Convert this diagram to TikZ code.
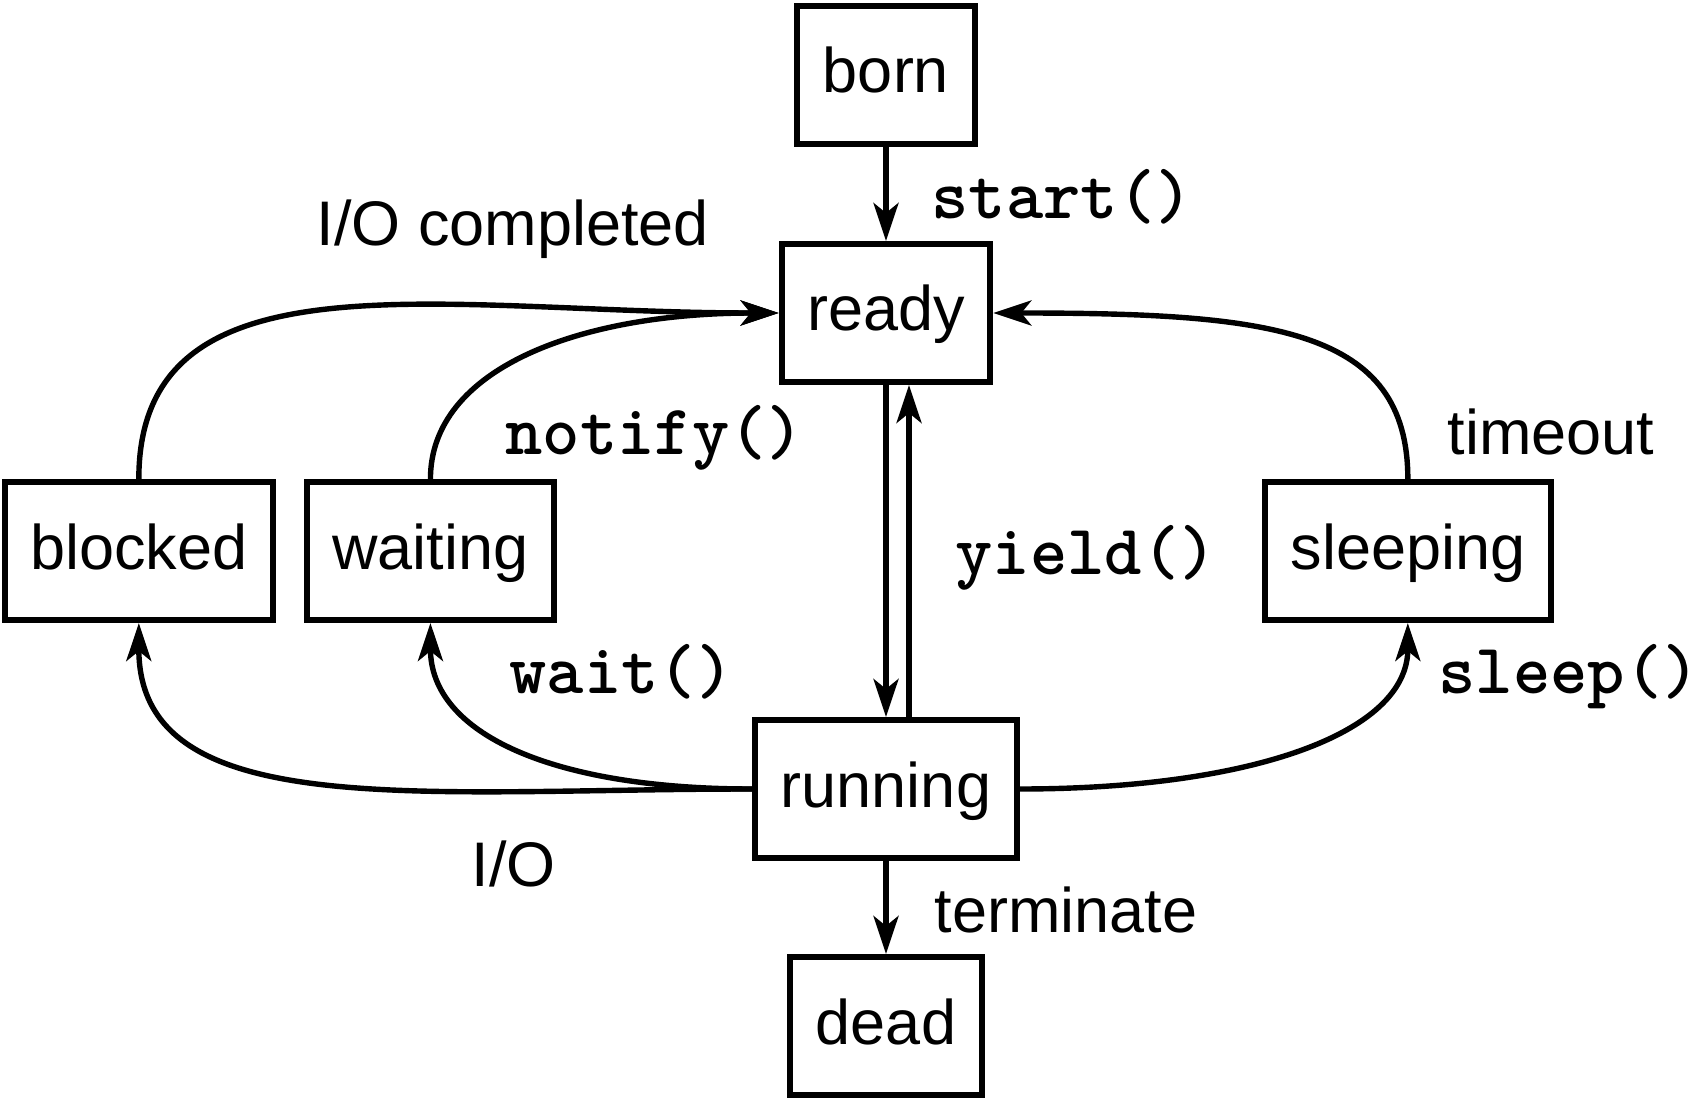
\documentclass[tikz,border=0pt]{standalone}
\usepackage{fontspec}
\setmainfont{Liberation Sans}
\usetikzlibrary{arrows.meta,positioning,calc}

\begin{document}
\begin{tikzpicture}[x=0.5pt, y=-0.5pt, line width=2.7pt,
    >={Stealth[length=19pt,width=12.5pt,inset=5pt]},
    state/.style={draw, rectangle, line width=3pt, minimum height=69pt,
        inner xsep=12.75pt, inner ysep=2pt, text height=24pt, text depth=6pt,
        font=\fontsize{31.5}{38}\selectfont},
    method/.style={font=\ttfamily\bfseries\fontsize{35.5}{42}\selectfont,
        inner sep=0pt, anchor=base west},
    event/.style={font=\fontsize{31.5}{38}\selectfont, inner sep=0pt, anchor=base west}]
    \useasboundingbox (0,0) rectangle (1698,1101);

    % Nodes {born, ready, running, dead, blocked, waiting, sleeping}
    \node [state]   (born)                          at (886,75) {born};
    \node [state]   (ready)     [below=47pt of born]            {ready};
    \node [state]   (running)   [below=166pt of ready]          {running};
    \node [state]   (dead)      [below=46.5pt of running]       {dead};
    \coordinate     (mid)       at ($(ready)!.5!(running)$);
    \node [state]   (waiting)   [left=164.5pt of mid]           {waiting};
    \node [state]   (blocked)   [left=14pt of waiting]          {blocked};
    \node [state]   (sleeping)  [right=188pt of mid]            {sleeping};

    % Paths
    \path [->]  (born) edge     node [method, pos=.76, xshift=21.5pt] {start()}     (ready);
    \path [->]  (ready) edge                                                        (running);
    \path [->]  ([xshift=11.5pt]running.north) edge
                                node [method, pos=.43, xshift=22pt] {yield()}      ([xshift=11.5pt]ready.south);
    \path [->]  (running) edge  node [event, pos=.77, xshift=23pt] {terminate}     (dead);
    \path [->]  (blocked) edge  [out=90, in=180, out looseness=.9, in looseness=1.3]    (ready);
    \path [->]  (waiting) edge  [out=90, in=180, out looseness=.73, in looseness=1.32]  (ready);
    \path [->]  (sleeping) edge [out=90, in=0, out looseness=.86, in looseness=1.6]     (ready);
    \path [->]  (running) edge  [out=180, in=-90, out looseness=1.34, in looseness=.81] (blocked);
    \path [->]  (running) edge  [out=180, in=-90, out looseness=1.42, in looseness=.78] (waiting);
    \path [->]  (running) edge  [out=0, in=-90, out looseness=1.4, in looseness=.67]    (sleeping);

    % Labels
    \node [event]   (iodone)    at (314,246)    {I/O completed};
    \node [method]  (notify)    at (503,455)    {notify()};
    \node [event]   (timeout)   at (1445,455)   {timeout};
    \node [method]  (wait)      at (507,693)    {wait()};
    \node [event]   (io)        at (469,886)    {I/O};
    \node [method]  (sleep)     at (1436,693)   {sleep()};

\end{tikzpicture}
\end{document}
